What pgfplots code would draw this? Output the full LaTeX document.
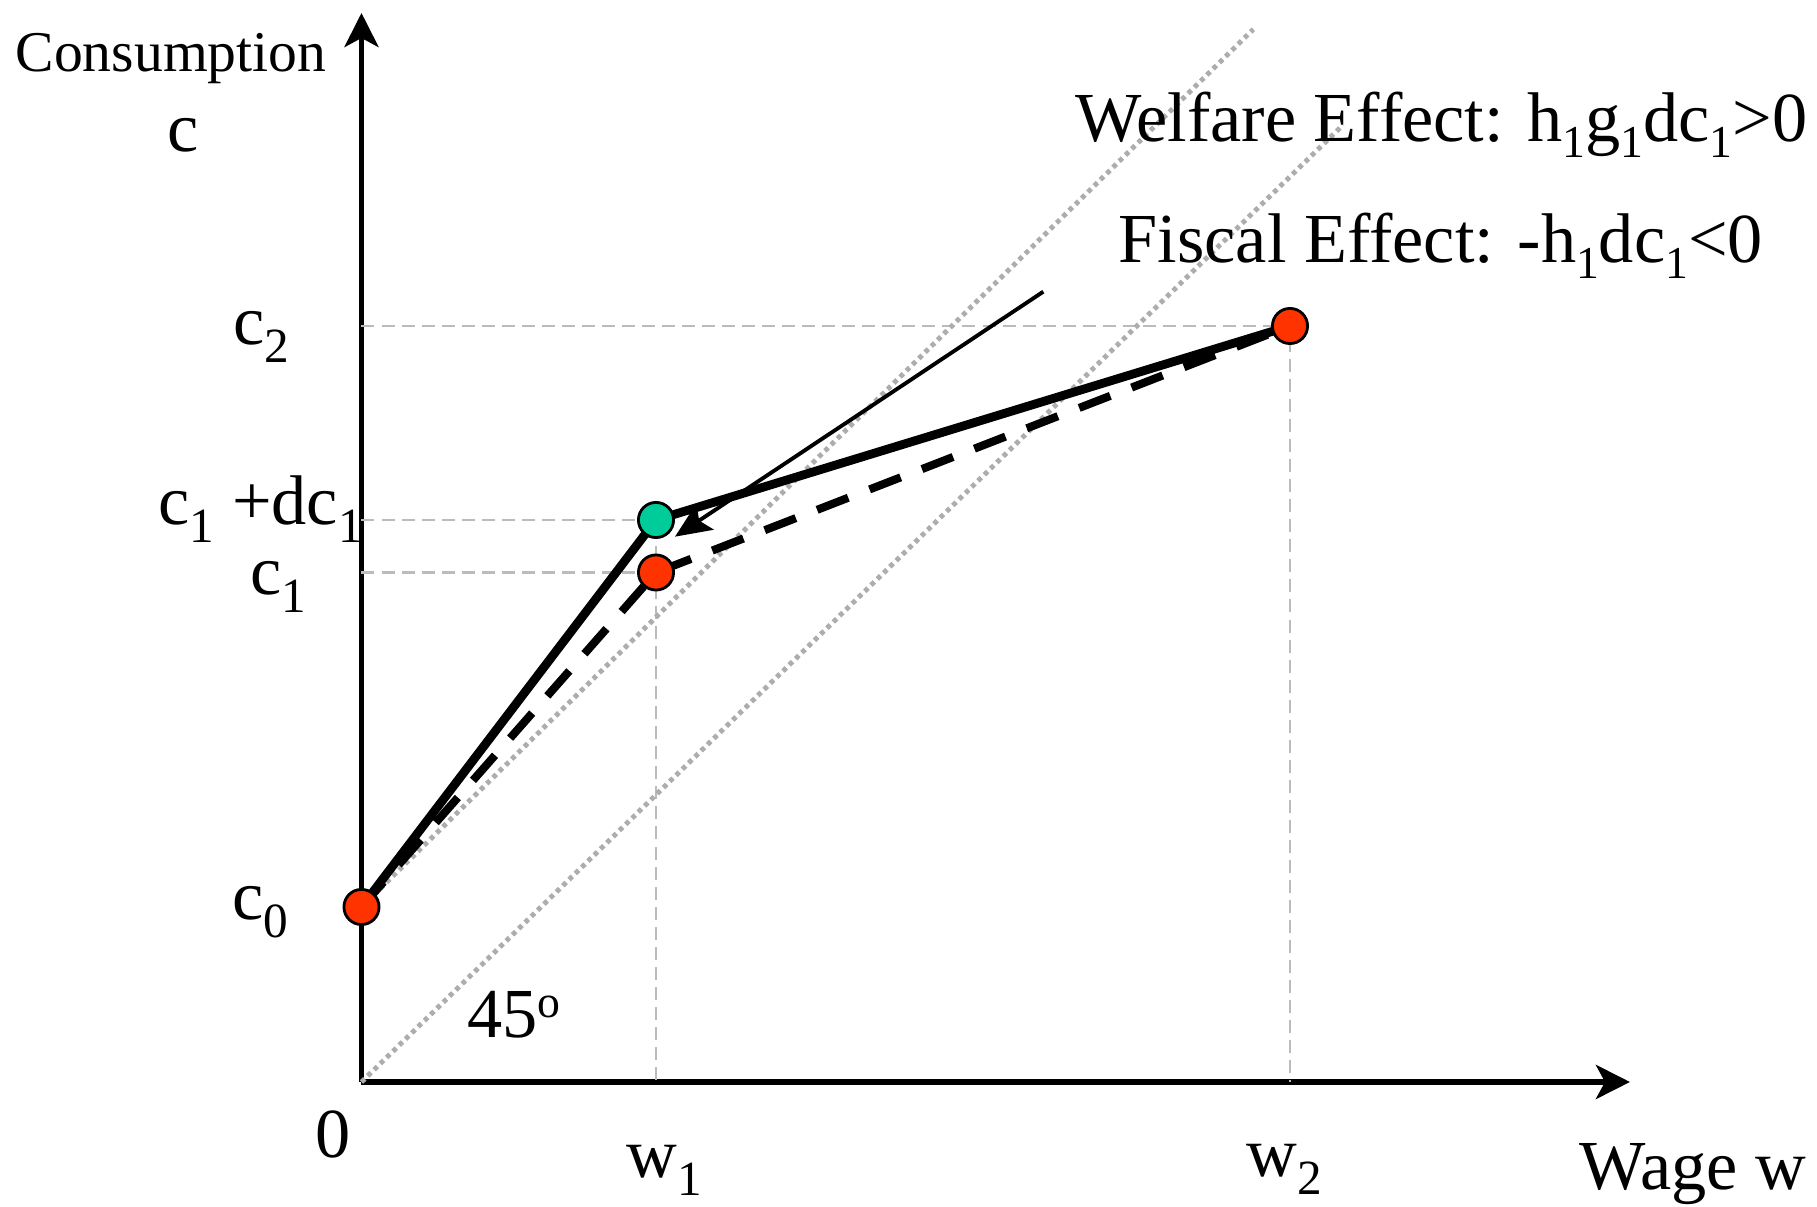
\documentclass[border=0pt]{standalone}
\usepackage{fontspec}
\setmainfont{Liberation Serif}
\usepackage{pgfplots}
\pgfplotsset{compat=1.18}
\usetikzlibrary{arrows.meta}

\definecolor{ptred}{HTML}{FF3300}
\definecolor{ptgreen}{HTML}{00CC99}
\definecolor{guide}{HTML}{BBBBBB}
\definecolor{dotgray}{HTML}{ADADAD}

% subscripts as they sit in the original slide
\newcommand{\sub}[1]{\raisebox{-5pt}{\fontsize{14}{14}\selectfont #1}}
\newcommand{\ssub}[1]{\raisebox{-4.5pt}{\fontsize{13}{13}\selectfont #1}}

\tikzset{
  lbl/.style={anchor=base west, inner sep=0pt, font=\fontsize{20}{24}\selectfont},
  guideline/.style={guide, line width=0.6pt, dash pattern=on 3.7pt off 2pt},
  fortyfive/.style={dotgray, line width=1.4pt, dash pattern=on 1.3pt off 1.2pt},
}

\begin{document}
\begin{tikzpicture}
\begin{axis}[
    scale only axis,
    width=12.685cm, height=10.69cm,
    xmin=0, xmax=12.685, ymin=0, ymax=10.69,
    axis lines=left,
    axis line style={line width=1.6pt, -{Stealth[length=3.4mm,width=3.4mm,inset=0.9mm]}},
    xtick=\empty, ytick=\empty,
    clip=false,
]
    % page frame
    \path (axis cs:-3.615,-1.25) rectangle (axis cs:14.555,10.82);

    % guide lines to the axes
    \addplot[guideline] coordinates {(0,7.56) (9.285,7.56) (9.285,0)};
    \addplot[guideline] coordinates {(0,5.62) (2.945,5.62) (2.945,0)};
    \addplot[guideline] coordinates {(0,5.095) (2.945,5.095)};

    % 45 degree lines
    \addplot[fortyfive] coordinates {(0,0) (9.815,9.57)};
    \addplot[fortyfive] coordinates {(0,1.75) (8.918,10.527)};

    % tangent with arrow
    \addplot[black, line width=1.1pt, -{Stealth[length=3.6mm,width=3.1mm,inset=0.7mm]}]
        coordinates {(6.818,7.903) (3.135,5.453)};

    % old and new consumption paths
    \addplot[black, line width=2.3pt, dash pattern=on 9.5pt off 6.5pt]
        coordinates {(0,1.75) (2.945,5.095) (9.285,7.56)};
    \addplot[black, line width=2.5pt]
        coordinates {(0,1.75) (2.945,5.62) (9.285,7.56)};

    % points
    \addplot[only marks, mark=*, mark size=5pt, mark options={fill=ptred, draw=black, line width=0.8pt}]
        coordinates {(0,1.75) (2.945,5.095) (9.285,7.56)};
    \addplot[only marks, mark=*, mark size=5pt, mark options={fill=ptgreen, draw=black, line width=0.8pt}]
        coordinates {(2.945,5.62)};

    % labels
    \node[lbl, font=\fontsize{16.4}{20}\selectfont] at (axis cs:-3.465,10.10) {Consumption};
    \node[lbl] at (axis cs:-1.945,9.30) {c};
    \node[lbl] at (axis cs:-1.285,7.37) {c\sub{2}};
    \node[lbl] at (axis cs:-2.035,5.57) {c\sub{1} +dc\sub{1}};
    \node[lbl] at (axis cs:-1.12,4.87) {c\sub{1}};
    \node[lbl] at (axis cs:-1.295,1.62) {c\sub{0}};
    \node[lbl] at (axis cs:-0.465,-0.76) {0};
    \node[lbl] at (axis cs:2.645,-0.96) {w\sub{1}};
    \node[lbl] at (axis cs:8.845,-0.95) {w\sub{2}};
    \node[lbl] at (axis cs:12.175,-1.08) {Wage w};
    \node[lbl] at (axis cs:1.055,0.44) {45\raisebox{5.7pt}{\fontsize{13}{13}\selectfont o}};
    \node[lbl] at (axis cs:7.135,9.40) {Welfare Effect: h\ssub{1}g\ssub{1}dc\ssub{1}>0};
    \node[lbl] at (axis cs:7.565,8.19) {Fiscal Effect: -h\ssub{1}dc\ssub{1}<0};
\end{axis}
\end{tikzpicture}
\end{document}
